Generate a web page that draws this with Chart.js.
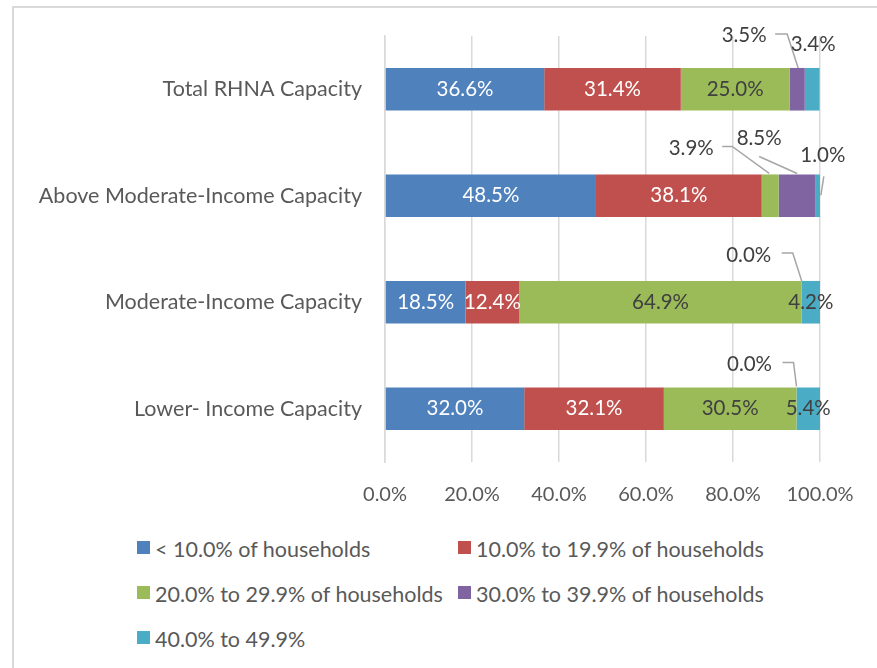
<!DOCTYPE html>
<html>
<head>
<meta charset="utf-8">
<script src="https://cdn.jsdelivr.net/npm/chart.js@4"></script>
<style>
  html, body { margin: 0; padding: 0; background: #fff; overflow: hidden; }
  #frame { position: absolute; left: 12px; top: 6px; width: 900px; height: 700px;
           border-left: 2px solid #d9d9d9; border-top: 2px solid #d9d9d9; }
  #wrap { position: absolute; left: 0; top: 0; width: 877px; height: 520px; }
  .item { position: absolute; height: 20px; line-height: 20px; font: 21.5px Lato, sans-serif;
          color: #595959; white-space: nowrap; }
  .item i { position: absolute; left: 0; top: 4px; width: 13px; height: 13px; }
  .item span { position: absolute; left: 18px; top: -1px; }
</style>
</head>
<body>
<div id="frame"></div>
<div id="wrap"><canvas id="chart"></canvas></div>
<div id="legend"></div>
<script>
const CATEGORIES = ['Total RHNA Capacity', 'Above Moderate-Income Capacity', 'Moderate-Income Capacity', 'Lower- Income Capacity'];
const SERIES_NAMES = ['< 10.0% of households', '10.0% to 19.9% of households', '20.0% to 29.9% of households', '30.0% to 39.9% of households', '40.0% to 49.9%'];
const UNDER_10 = [36.6, 48.5, 18.5, 32.0];
const FROM_10 = [31.4, 38.1, 12.4, 32.1];
const FROM_20 = [25.0, 3.9, 64.9, 30.5];
const FROM_30 = [3.5, 8.5, 0.0, 0.0];
const FROM_40 = [3.4, 1.0, 4.2, 5.4];
const X_TICKS = [0, 20, 40, 60, 80, 100];

const COLORS = ['#4f81bd', '#c0504d', '#9bbb59', '#8064a2', '#4bacc6'];
const LABEL_COLORS = ['#ffffff', '#ffffff', '#404040', '#404040', '#404040'];
const FONT = 'Lato, sans-serif';
const TEXT = '#595959';

// callout labels: offset from (segment centre, bar top), leader points relative to same anchor
const CALLOUTS = {
  '3,0': { dx: -53, dy: -33, leader: [[-22, -34], [-10, -34], [1, 0]] },
  '4,0': { dx: 1, dy: -24, leader: null },
  '2,1': { dx: -79, dy: -26, leader: [[-48, -28], [-38, -28], [-1, -1]] },
  '3,1': { dx: -38, dy: -36, leader: [[-38, -18], [0, -1]] },
  '4,1': { dx: 5, dy: -19, leader: [[6, 2], [3, 21]] },
  '3,2': { dx: -53, dy: -26, leader: [[-20, -28], [-9, -28], [0, 0]] },
  '3,3': { dx: -47, dy: -23, leader: [[-14, -25], [-3, -25], [0, -1]] },
};

const dataLabels = {
  id: 'dataLabels',
  afterDatasetsDraw(chart) {
    const ctx = chart.ctx;
    ctx.save();
    ctx.font = `20.5px ${FONT}`;
    ctx.textAlign = 'center';
    ctx.textBaseline = 'middle';
    chart.data.datasets.forEach((ds, di) => {
      chart.getDatasetMeta(di).data.forEach((bar, i) => {
        const text = ds.data[i].toFixed(1) + '%';
        const cx = (bar.x + bar.base) / 2;
        const top = bar.y - bar.height / 2;
        const call = CALLOUTS[`${di},${i}`];
        if (call) {
          if (call.leader) {
            ctx.strokeStyle = '#a6a6a6';
            ctx.lineWidth = 1.5;
            ctx.beginPath();
            call.leader.forEach(([px, py], k) => {
              if (k === 0) ctx.moveTo(cx + px, top + py);
              else ctx.lineTo(cx + px, top + py);
            });
            ctx.stroke();
          }
          ctx.fillStyle = '#404040';
          ctx.fillText(text, cx + call.dx, top + call.dy);
        } else {
          ctx.fillStyle = LABEL_COLORS[di];
          ctx.fillText(text, cx, bar.y);
        }
      });
    });
    ctx.restore();
  },
};

const seriesData = [UNDER_10, FROM_10, FROM_20, FROM_30, FROM_40];

new Chart(document.getElementById('chart'), {
  type: 'bar',
  data: {
    labels: CATEGORIES,
    datasets: seriesData.map((values, i) => ({
      label: SERIES_NAMES[i],
      data: values,
      backgroundColor: COLORS[i],
      borderWidth: 0,
      barPercentage: 0.4,
      categoryPercentage: 1,
    })),
  },
  options: {
    indexAxis: 'y',
    responsive: true,
    maintainAspectRatio: false,
    animation: false,
    layout: { padding: { top: 36, right: 57, left: 0, bottom: 0 } },
    plugins: { legend: { display: false }, tooltip: { enabled: false } },
    scales: {
      x: {
        stacked: true,
        min: 0,
        max: 100,
        afterBuildTicks: (scale) => { scale.ticks = X_TICKS.map((v) => ({ value: v })); },
        afterFit: (scale) => { scale.height = 58; },
        ticks: { callback: (v) => Number(v).toFixed(1) + '%', font: { family: FONT, size: 20 }, color: TEXT, padding: 21 },
        grid: { color: '#d9d9d9', lineWidth: 1.5, drawTicks: false },
        border: { display: false },
      },
      y: {
        stacked: true,
        afterFit: (scale) => { scale.width = 385; },
        ticks: { font: { family: FONT, size: 21.5 }, color: TEXT, padding: 23 },
        grid: { display: false, drawTicks: false },
        border: { color: '#d9d9d9', width: 1.5 },
      },
    },
  },
  plugins: [dataLabels],
});

// legend in a two-column grid, like the original
const LEGEND_X = [137, 458];
const LEGEND_Y = [537, 582, 627];
const legend = document.getElementById('legend');
SERIES_NAMES.forEach((name, i) => {
  const el = document.createElement('div');
  el.className = 'item';
  el.style.left = LEGEND_X[i % 2] + 'px';
  el.style.top = LEGEND_Y[Math.floor(i / 2)] + 'px';
  el.innerHTML = `<i style="background:${COLORS[i]}"></i><span></span>`;
  el.querySelector('span').textContent = name;
  legend.appendChild(el);
});
</script>
</body>
</html>
